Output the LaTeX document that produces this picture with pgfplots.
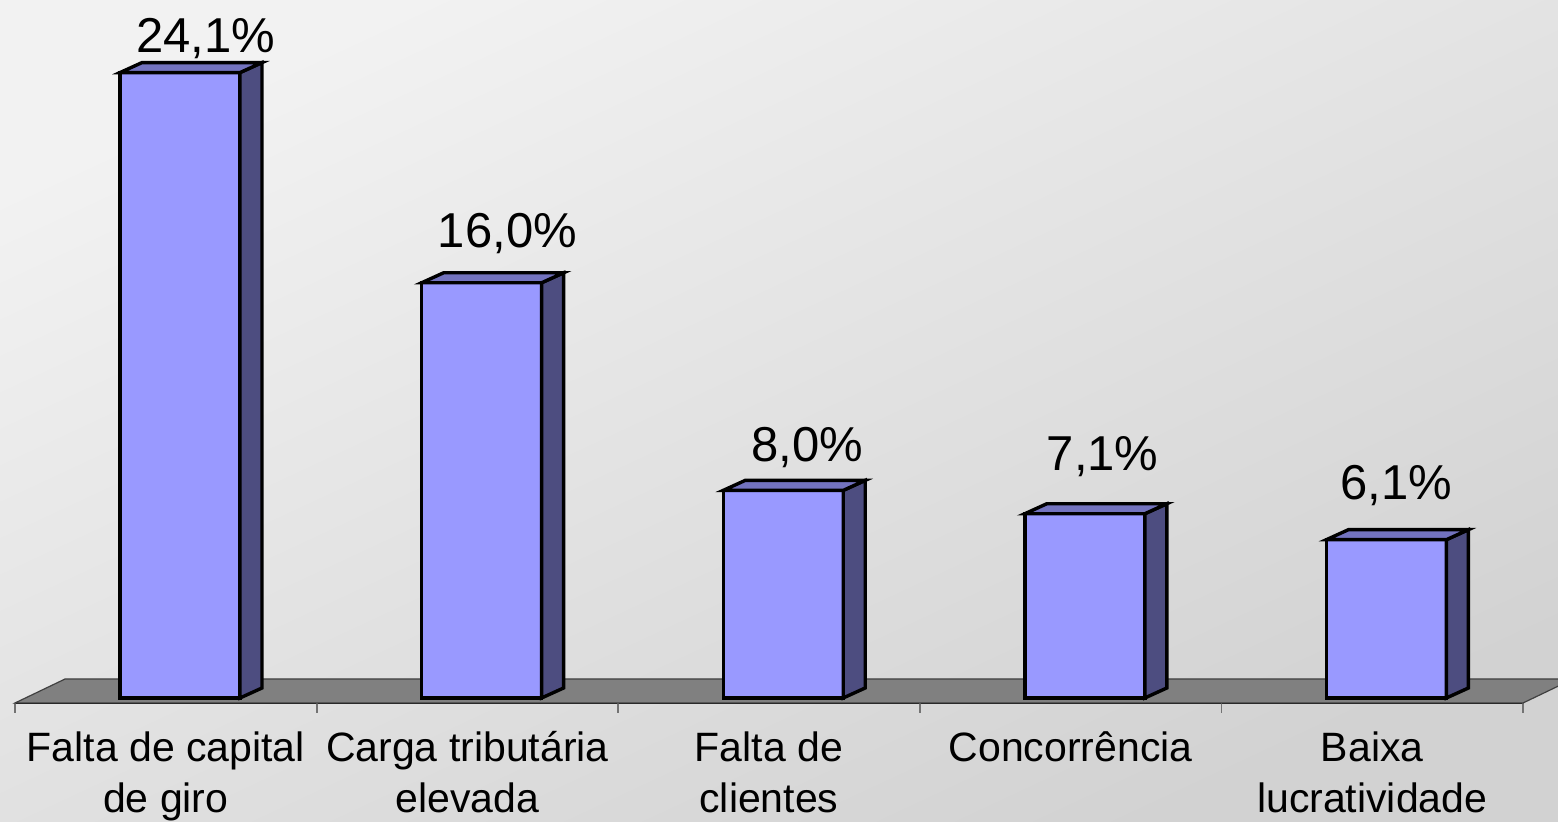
\documentclass[border=0pt]{standalone}
\usepackage{pgfplots}
\pgfplotsset{compat=1.18}
\usepackage{pgfplotstable}
\usepackage{fontspec}
\setmainfont{Liberation Sans}
\definecolor{barfront}{HTML}{9999FF}
\definecolor{barside}{HTML}{4D4D80}
\definecolor{bartop}{HTML}{7373BF}
\definecolor{floorgray}{HTML}{808080}
\definecolor{bgtop}{HTML}{F2F2F2}
\definecolor{bgbot}{HTML}{D2D2D2}

% category index, value (%), label x/y offset (pt)
\pgfplotstableread{
x v lx ly
0 24.1 20 10
1 16.0 20 17.5
2 8.0 19 14.5
3 7.1 16 21.5
4 6.1 12 20
}\datatable

\begin{document}
\begin{tikzpicture}
\clip (-7.5pt,-59.5pt) rectangle (771.5pt,351.5pt);
\shade[top color=bgtop, bottom color=bgbot, shading angle=25] (-7.5pt,-59.5pt) rectangle (771.5pt,351.5pt);
\begin{axis}[
  at={(0,0)}, anchor=south west,
  x=150.8pt, y=12.975pt,
  xmin=-0.5, xmax=4.5, ymin=-0.1927, ymax=26,
  clip=false,
  axis x line*=bottom,
  axis y line=none,
  x axis line style={black, line width=1pt, -},
  xtick={0,1,2,3,4},
  xticklabels={{\strut Falta de capital\\de giro},{\strut Carga tributária\\elevada},{\strut Falta de\\clientes},{\strut Concorrência},{\strut Baixa\\lucratividade}},
  major tick length=0pt,
  xticklabel style={font=\fontsize{20.5}{25.5}\selectfont, align=center, anchor=north, inner sep=0pt, yshift=-11.15pt},
  extra x ticks={-0.5,0.5,1.5,2.5,3.5,4.5},
  extra x tick labels={},
  extra x tick style={major tick length=5pt, tick align=outside, tick style={draw=black!55, line width=0.9pt}},
]
% floor
\filldraw[fill=floorgray, draw=black!75, line width=0.6pt]
  (axis cs:-0.5,-0.1927) -- (axis cs:-0.334,0.732) -- (axis cs:4.666,0.732) -- (axis cs:4.5,-0.1927) -- cycle;
% front faces
\addplot[ybar, bar width=60pt, bar shift=7.1pt, fill=barfront, draw=black, line width=1.7pt] table[x=x, y=v] {\datatable};
% side & top faces
\addplot[
  scatter, only marks, mark=*,
  visualization depends on={\thisrow{v} \as \barv},
  scatter/@pre marker code/.code={
    \filldraw[fill=barside, draw=black, line width=1.7pt, line join=miter]
      (37.1pt,0pt) -- (48.1pt,5pt) -- (48.1pt,{5pt-\barv*12.975pt}) -- (37.1pt,{-\barv*12.975pt}) -- cycle;
    \filldraw[fill=bartop, draw=black, line width=1.7pt, line join=miter]
      (-22.9pt,0pt) -- (37.1pt,0pt) -- (48.1pt,5pt) -- (-11.9pt,5pt) -- cycle;
    \begin{scope}[opacity=0]
  },
  scatter/@post marker code/.code={\end{scope}},
] table[x=x, y=v] {\datatable};
% value labels
\addplot[
  only marks, mark=none,
  visualization depends on={\thisrow{lx} \as \labx},
  visualization depends on={\thisrow{ly} \as \laby},
  nodes near coords={\pgfmathprintnumber[fixed, fixed zerofill, precision=1, use comma, assume math mode=true]{\pgfplotspointmeta}\%},
  nodes near coords style={anchor=base, inner sep=0pt, xshift=\labx pt, yshift=\laby pt, font=\fontsize{24.5}{29}\selectfont, black},
] table[x=x, y=v] {\datatable};
\end{axis}
\end{tikzpicture}
\end{document}
